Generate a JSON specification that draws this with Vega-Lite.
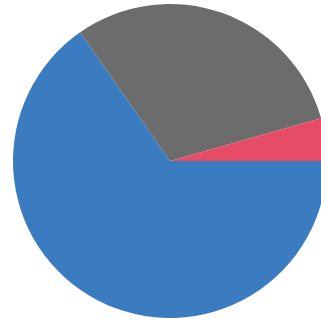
{
  "$schema": "https://vega.github.io/schema/vega-lite/v6.json",
  "width": 340,
  "height": 322,
  "padding": 0,
  "background": "white",
  "view": {"stroke": null},
  "data": {"values": [
    {"category": "A", "value": 65.3, "rank": 1},
    {"category": "B", "value": 30.3, "rank": 2},
    {"category": "C", "value": 4.4, "rank": 3}
  ]},
  "mark": {"type": "arc", "outerRadius": 157},
  "encoding": {
    "theta": {"field": "value", "type": "quantitative", "stack": true, "scale": {"range": [1.5708, 7.8540]}},
    "order": {"field": "rank", "type": "quantitative"},
    "color": {"field": "category", "type": "nominal", "legend": null,
      "scale": {"domain": ["A", "B", "C"], "range": ["#3b7bbf", "#6c6c6c", "#e64c66"]}}
  }
}
